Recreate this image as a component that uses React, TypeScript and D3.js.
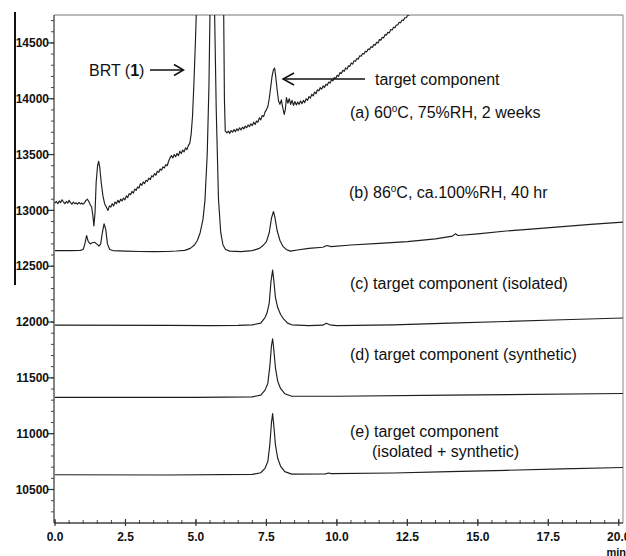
import React from "react";
import * as d3 from "d3";

// ---- data (time in min, detector response) ----
const traceA: [number, number][] = [
  [0.0, 13065], [0.05, 13080], [0.1, 13060], [0.15, 13085], [0.2, 13070], [0.25, 13095], [0.3, 13075],
  [0.35, 13060], [0.4, 13080], [0.45, 13065], [0.5, 13090], [0.55, 13070], [0.6, 13055], [0.65, 13075],
  [0.7, 13060], [0.75, 13068], [0.8, 13055], [0.85, 13072], [0.9, 13058], [0.95, 13065], [1.0, 13055],
  [1.05, 13070], [1.1, 13090], [1.15, 13100], [1.2, 13080], [1.25, 13050], [1.3, 13030], [1.34, 12960],
  [1.38, 12860], [1.42, 12980], [1.46, 13250], [1.51, 13400], [1.55, 13440], [1.59, 13380], [1.64, 13250],
  [1.7, 13130], [1.76, 13060], [1.82, 13030], [1.88, 13000], [1.93, 13040], [1.98, 13030], [2.03, 13060],
  [2.08, 13040], [2.13, 13075], [2.18, 13060], [2.23, 13090], [2.28, 13070], [2.33, 13100], [2.38, 13085],
  [2.43, 13110], [2.48, 13095], [2.53, 13130], [2.58, 13115], [2.63, 13150], [2.68, 13140], [2.73, 13170],
  [2.78, 13155], [2.83, 13190], [2.88, 13180], [2.93, 13210], [2.98, 13200], [3.03, 13240], [3.08, 13225],
  [3.13, 13255], [3.18, 13240], [3.23, 13270], [3.28, 13260], [3.33, 13290], [3.38, 13275], [3.43, 13310],
  [3.48, 13300], [3.53, 13330], [3.58, 13315], [3.63, 13350], [3.68, 13340], [3.73, 13370], [3.78, 13360],
  [3.83, 13390], [3.88, 13380], [3.93, 13410], [3.98, 13400], [4.03, 13440], [4.08, 13470], [4.13, 13490],
  [4.18, 13470], [4.23, 13500], [4.28, 13480], [4.33, 13510], [4.38, 13490], [4.43, 13530], [4.48, 13510],
  [4.53, 13540], [4.58, 13525], [4.63, 13560], [4.68, 13545], [4.73, 13580], [4.78, 13600], [4.83, 13680],
  [4.88, 13850], [4.93, 14150], [4.98, 14500], [5.03, 14900], [5.5, 20000], [5.98, 14900], [6.01, 14000],
  [6.04, 13710], [6.1, 13695], [6.15, 13710], [6.2, 13690], [6.25, 13715], [6.3, 13700], [6.35, 13725],
  [6.4, 13705], [6.45, 13730], [6.5, 13715], [6.55, 13740], [6.6, 13720], [6.65, 13745], [6.7, 13730],
  [6.75, 13755], [6.8, 13740], [6.85, 13765], [6.9, 13750], [6.95, 13775], [7.0, 13760], [7.05, 13790],
  [7.1, 13770], [7.15, 13800], [7.2, 13790], [7.25, 13830], [7.3, 13810], [7.35, 13850], [7.4, 13840],
  [7.45, 13880], [7.5, 13900], [7.55, 13930], [7.6, 14000], [7.65, 14100], [7.7, 14200], [7.75, 14260],
  [7.79, 14275], [7.83, 14200], [7.88, 14080], [7.93, 13980], [7.98, 13950], [8.03, 13990], [8.08, 13920],
  [8.13, 13860], [8.17, 13900], [8.21, 14010], [8.26, 13960], [8.31, 14000], [8.36, 13950], [8.41, 13985],
  [8.46, 13940], [8.51, 13975], [8.56, 13945], [8.61, 13970], [8.66, 13950], [8.71, 13980], [8.76, 13955],
  [8.81, 13985], [8.86, 13965], [8.91, 14000], [8.96, 13985], [9.01, 14020], [9.06, 14005], [9.11, 14040],
  [9.16, 14025], [9.21, 14060], [9.26, 14045], [9.31, 14080], [9.36, 14070], [9.41, 14100], [9.46, 14085],
  [9.51, 14115], [9.56, 14100], [9.61, 14130], [9.66, 14120], [9.71, 14150], [9.76, 14140], [9.81, 14170],
  [9.86, 14160], [9.91, 14190], [9.96, 14180], [10.01, 14210], [10.06, 14200], [10.11, 14235], [10.16, 14225],
  [10.21, 14255], [10.26, 14245], [10.31, 14275], [10.36, 14265], [10.41, 14295], [10.46, 14290], [10.51, 14320],
  [10.56, 14310], [10.61, 14340], [10.66, 14335], [10.71, 14360], [10.76, 14355], [10.81, 14385], [10.86, 14380],
  [10.91, 14405], [10.96, 14400], [11.01, 14425], [11.06, 14420], [11.11, 14445], [11.16, 14440], [11.21, 14465],
  [11.26, 14460], [11.31, 14485], [11.36, 14480], [11.41, 14505], [11.46, 14500], [11.51, 14530], [11.56, 14525],
  [11.61, 14550], [11.66, 14545], [11.71, 14575], [11.76, 14570], [11.81, 14595], [11.86, 14590], [11.91, 14620],
  [11.96, 14615], [12.01, 14640], [12.06, 14635], [12.11, 14660], [12.16, 14660], [12.21, 14685], [12.26, 14680],
  [12.31, 14705], [12.36, 14700], [12.41, 14725], [12.46, 14725], [12.51, 14745], [12.56, 14750], [12.61, 14775],
  [13.0, 14850],
];

const traceB: [number, number][] = [
  [0.0, 12640], [0.5, 12640], [0.9, 12642], [1.0, 12650], [1.06, 12700], [1.12, 12775], [1.18, 12720],
  [1.25, 12700], [1.32, 12710], [1.4, 12715], [1.48, 12700], [1.56, 12680], [1.62, 12700], [1.68, 12800],
  [1.74, 12880], [1.8, 12830], [1.86, 12700], [1.94, 12650], [2.05, 12640], [2.5, 12635], [3.0, 12632],
  [3.5, 12630], [4.0, 12632], [4.3, 12636], [4.6, 12642], [4.8, 12660], [4.95, 12690], [5.05, 12730],
  [5.15, 12800], [5.25, 12920], [5.32, 13090], [5.4, 13500], [5.46, 14100], [5.5, 14800], [5.58, 22000],
  [5.66, 14800], [5.72, 13900], [5.8, 13100], [5.88, 12800], [5.96, 12690], [6.05, 12650], [6.2, 12635],
  [6.6, 12630], [7.0, 12640], [7.25, 12660], [7.4, 12690], [7.5, 12720], [7.6, 12800], [7.68, 12930],
  [7.75, 12990], [7.8, 12940], [7.88, 12820], [7.98, 12730], [8.08, 12680], [8.2, 12650], [8.35, 12635],
  [8.6, 12645], [9.0, 12660], [9.5, 12670], [9.65, 12685], [9.8, 12675], [10.5, 12690], [11.5, 12705],
  [12.5, 12720], [13.5, 12745], [14.1, 12770], [14.2, 12790], [14.3, 12775], [15.0, 12790], [16.0, 12815],
  [17.0, 12835], [18.0, 12855], [19.0, 12875], [20.15, 12895],
];

const traceC: [number, number][] = [
  [0.0, 11972], [4.0, 11970], [5.5, 11968], [6.5, 11970], [7.0, 11975], [7.3, 11990], [7.45, 12040],
  [7.52, 12080], [7.6, 12170], [7.66, 12360], [7.72, 12465], [7.76, 12380], [7.82, 12220], [7.9, 12130],
  [8.0, 12070], [8.1, 12030], [8.25, 11990], [8.4, 11975], [9.0, 11968], [9.5, 11972], [9.62, 11990],
  [9.75, 11975], [10.0, 11968], [12.0, 11975], [14.0, 11990], [16.0, 12005], [18.0, 12020], [20.15, 12036],
];

const traceD: [number, number][] = [
  [0.0, 11325], [5.0, 11325], [7.0, 11330], [7.3, 11345], [7.45, 11390], [7.55, 11450], [7.62, 11600],
  [7.68, 11790], [7.72, 11850], [7.76, 11760], [7.82, 11590], [7.9, 11470], [8.0, 11405], [8.15, 11358],
  [8.4, 11335], [10.0, 11335], [14.0, 11345], [20.15, 11360],
];

const traceE: [number, number][] = [
  [0.0, 10632], [4.0, 10630], [7.0, 10635], [7.3, 10650], [7.45, 10690], [7.55, 10750], [7.62, 10900],
  [7.68, 11100], [7.72, 11180], [7.76, 11080], [7.82, 10900], [7.9, 10780], [8.0, 10710], [8.15, 10660],
  [8.4, 10638], [9.6, 10640], [9.7, 10648], [9.8, 10642], [12.0, 10648], [14.0, 10660], [16.0, 10672],
  [18.0, 10685], [20.15, 10697],
];

const traces = [traceA, traceB, traceC, traceD, traceE];

const yTickValues = [10500, 11000, 11500, 12000, 12500, 13000, 13500, 14000, 14500];
const xTickValues = [0, 2.5, 5, 7.5, 10, 12.5, 15, 17.5, 20];
const xTickLabels = ["0.0", "2.5", "5.0", "7.5", "10.0", "12.5", "15.0", "17.5", "20.0"];

const W = 626;
const H = 556;
const left = 54;
const right = 623;
const top = 15;
const bottom = 523;

export default function App() {
  const x = d3.scaleLinear().domain([0, 20.15]).range([55, right]);
  const y = d3.scaleLinear().domain([10200, 14750]).range([bottom, top]);
  const line = d3
    .line<[number, number]>()
    .x((d) => x(d[0]))
    .y((d) => y(d[1]));

  const yMinor = d3.range(10300, 14750, 100);
  const xMinor = d3.range(0, 20.15, 0.5);

  const font = "'Liberation Sans', Arial, Helvetica, sans-serif";
  const tickStyle = { fontFamily: font, fontWeight: 700, fontSize: 12, fill: "#111" } as const;
  const lab = { fontFamily: font, fontSize: 16, fill: "#111" } as const;

  return (
    <svg
      width={W}
      height={H}
      viewBox={`0 0 ${W} ${H}`}
      style={{ position: "absolute", left: 0, top: 0, background: "#fff" }}
    >
      <defs>
        <clipPath id="plotclip">
          <rect x={left} y={top} width={right - left} height={bottom - top} />
        </clipPath>
      </defs>
      <rect x={0} y={0} width={W} height={H} fill="#fff" />

      {/* frame */}
      <line x1={left} y1={top} x2={right} y2={top} stroke="#777" strokeWidth={1.2} />
      <line x1={right} y1={top} x2={right} y2={bottom} stroke="#888" strokeWidth={1} />
      <line x1={left} y1={top} x2={left} y2={bottom} stroke="#444" strokeWidth={1.3} />
      <line x1={left} y1={bottom} x2={right} y2={bottom} stroke="#444" strokeWidth={1.3} />

      {/* y ticks */}
      {yMinor.map((v) => (
        <line key={"ym" + v} x1={left - 3} x2={left} y1={y(v)} y2={y(v)} stroke="#444" strokeWidth={1} />
      ))}
      {yTickValues.map((v) => (
        <g key={"y" + v}>
          <line x1={left - 6} x2={left} y1={y(v)} y2={y(v)} stroke="#333" strokeWidth={1.2} />
          <text x={left - 5} y={y(v)} dy="0.35em" textAnchor="end" style={tickStyle}>
            {v}
          </text>
        </g>
      ))}

      {/* x ticks */}
      {xMinor.map((v) => (
        <line key={"xm" + v} x1={x(v)} x2={x(v)} y1={bottom - 3} y2={bottom + 1} stroke="#444" strokeWidth={1} />
      ))}
      {xTickValues.map((v, i) => (
        <g key={"x" + v}>
          <line x1={x(v)} x2={x(v)} y1={bottom - 4} y2={bottom + 3} stroke="#333" strokeWidth={1.2} />
          <text x={x(v)} y={bottom + 14} dy="0.35em" textAnchor="middle" style={tickStyle}>
            {xTickLabels[i]}
          </text>
        </g>
      ))}
      <text x={626} y={bottom + 29} dy="0.35em" textAnchor="end" style={{ ...tickStyle, fontSize: 11 }}>
        min
      </text>

      {/* traces */}
      <g clipPath="url(#plotclip)">
        {traces.map((t, i) => (
          <path key={i} d={line(t) || ""} fill="none" stroke="#1e1e1e" strokeWidth={1.15} strokeLinejoin="round" />
        ))}
      </g>

      {/* stray left line */}
      <line x1={15} y1={12} x2={15} y2={285} stroke="#111" strokeWidth={2} />

      {/* annotations */}
      <text x={89} y={76} style={lab}>
        BRT (<tspan fontWeight={700}>1</tspan>)
      </text>
      <line x1={150} y1={70} x2={183} y2={70} stroke="#111" strokeWidth={1.5} />
      <polyline points="174,64.5 183.5,70 174,75.5" fill="none" stroke="#111" strokeWidth={1.5} />

      <line x1={283} y1={79} x2={365} y2={79} stroke="#111" strokeWidth={1.5} />
      <polyline points="294,73 283,79 294,85" fill="none" stroke="#111" strokeWidth={1.5} />
      <text x={375} y={85} style={lab}>
        target component
      </text>

      <text x={350} y={118} style={lab}>
        (a) 60<tspan fontSize={10} dy={-6}>o</tspan>
        <tspan dy={6}>C, 75%RH, 2 weeks</tspan>
      </text>
      <text x={349} y={198} style={lab}>
        (b) 86<tspan fontSize={10} dy={-6}>o</tspan>
        <tspan dy={6}>C, ca.100%RH, 40 hr</tspan>
      </text>
      <text x={350} y={289} style={lab}>
        (c) target component (isolated)
      </text>
      <text x={350} y={360} style={lab}>
        (d) target component (synthetic)
      </text>
      <text x={350} y={437} style={lab}>
        (e) target component
      </text>
      <text x={372} y={457} style={lab}>
        (isolated + synthetic)
      </text>
    </svg>
  );
}
